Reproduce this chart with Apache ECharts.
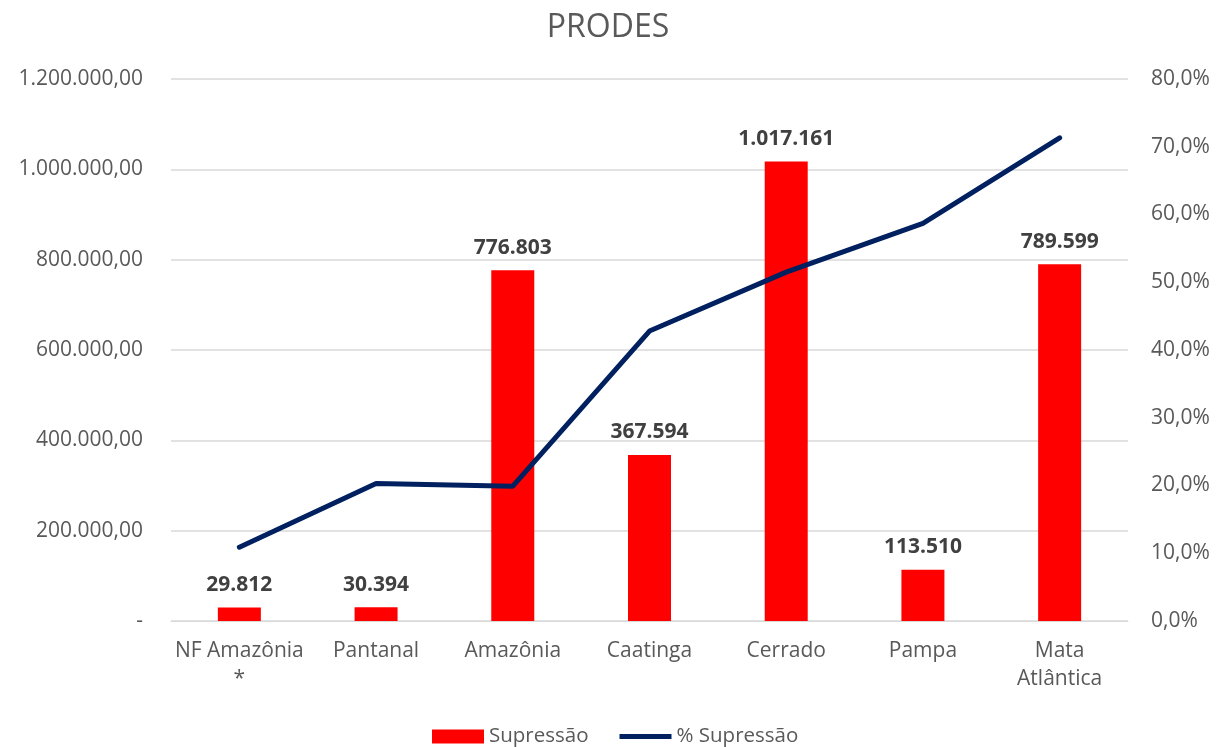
<!DOCTYPE html>
<html>
<head>
<meta charset="utf-8">
<script src="https://cdn.jsdelivr.net/npm/echarts@6/dist/echarts.min.js"></script>
<style>
  html, body { margin: 0; padding: 0; background: #fff; }
  #chart { width: 1216px; height: 747px; }
</style>
</head>
<body>
<div id="chart"></div>
<script>
const categories = ['NF Amazônia\n*', 'Pantanal', 'Amazônia', 'Caatinga', 'Cerrado', 'Pampa', 'Mata\nAtlântica']
const supressao = [29812, 30394, 776803, 367594, 1017161, 113510, 789599]
const pctSupressao = [0.109, 0.203, 0.199, 0.428, 0.515, 0.587, 0.713]

const fmtInt = v => String(Math.round(v)).replace(/\B(?=(\d{3})+(?!\d))/g, '.')
const fmtLeft = v => v === 0 ? '-' : fmtInt(v) + ',00'
const fmtPct = v => (v * 100).toFixed(1).replace('.', ',') + '%'

const chart = echarts.init(document.getElementById('chart'))
const font = '"Open Sans", sans-serif'

chart.setOption({
  animation: false,
  textStyle: { fontFamily: font },
  title: {
    text: 'PRODES',
    left: 'center',
    top: 7,
    textStyle: { fontSize: 32, fontWeight: 'normal', color: '#595959', fontFamily: font },
  },
  grid: { left: 171, right: 88, top: 79, bottom: 126 },
  legend: {
    top: 721,
    left: 427,
    itemGap: 31,
    itemWidth: 52,
    itemHeight: 14,
    textStyle: { fontSize: 20.5, color: '#595959', fontFamily: font },
    data: [
      { name: 'Supressão', icon: 'rect' },
      { name: '% Supressão', icon: 'path://M0,0 L52,0 L52,5 L0,5 Z' },
    ],
  },
  xAxis: {
    type: 'category',
    data: categories,
    axisLine: { lineStyle: { color: '#d9d9d9', width: 1 } },
    axisTick: { show: false },
    axisLabel: { interval: 0, fontSize: 21, color: '#595959', margin: 16, lineHeight: 28, fontFamily: font },
  },
  yAxis: [
    {
      type: 'value',
      min: 0,
      max: 1200000,
      interval: 200000,
      axisLabel: { formatter: fmtLeft, fontSize: 21, color: '#595959', margin: 28, fontFamily: font },
      splitLine: { lineStyle: { color: '#d9d9d9', width: 1.5 } },
      axisLine: { show: false },
    },
    {
      type: 'value',
      min: 0,
      max: 0.8,
      interval: 0.1,
      axisLabel: { formatter: fmtPct, fontSize: 21, color: '#595959', margin: 23, fontFamily: font },
      splitLine: { show: false },
      axisLine: { show: false },
    },
  ],
  series: [
    {
      name: 'Supressão',
      type: 'bar',
      data: supressao,
      barWidth: 43,
      itemStyle: { color: '#ff0000' },
      label: {
        show: true,
        position: 'top',
        distance: 12,
        formatter: p => fmtInt(p.value),
        fontSize: 21,
        fontWeight: 'bold',
        color: '#404040',
        fontFamily: font,
      },
    },
    {
      name: '% Supressão',
      type: 'line',
      yAxisIndex: 1,
      data: pctSupressao,
      symbol: 'none',
      lineStyle: { color: '#002060', width: 5, cap: 'round' },
      itemStyle: { color: '#002060' },
    },
  ],
})
</script>
</body>
</html>
